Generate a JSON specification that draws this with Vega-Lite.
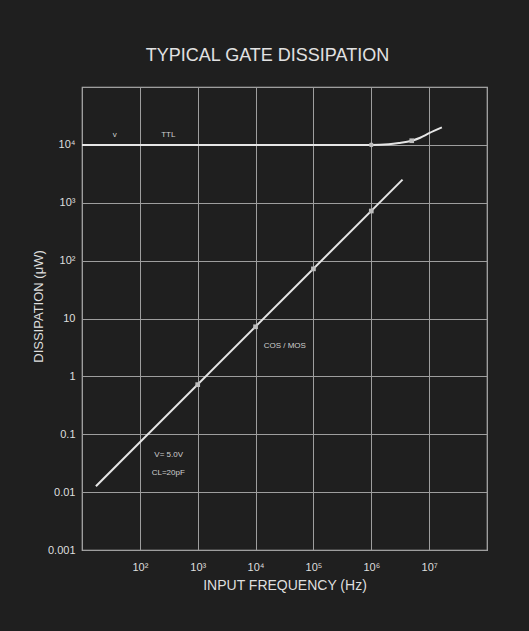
{
  "$schema": "https://vega.github.io/schema/vega-lite/v6.json",
  "width": 405,
  "height": 463,
  "autosize": {"type": "none"},
  "padding": {"left": 82, "top": 87, "right": 42, "bottom": 81},
  "background": "#1f1f1f",
  "title": {
    "text": "TYPICAL GATE DISSIPATION",
    "fontSize": 18,
    "font": "Liberation Sans",
    "fontWeight": "normal",
    "color": "#e2e2e2",
    "anchor": "middle",
    "baseline": "alphabetic",
    "offset": 2,
    "dx": -17
  },
  "datasets": {
    "lines": [
      {"series": "TTL", "f": 10, "p": 10000},
      {"series": "TTL", "f": 100, "p": 10000},
      {"series": "TTL", "f": 1000, "p": 10000},
      {"series": "TTL", "f": 10000, "p": 10000},
      {"series": "TTL", "f": 100000, "p": 10000},
      {"series": "TTL", "f": 1000000, "p": 10000},
      {"series": "TTL", "f": 2000000, "p": 10250},
      {"series": "TTL", "f": 3000000, "p": 10750},
      {"series": "TTL", "f": 5000000, "p": 11800},
      {"series": "TTL", "f": 7000000, "p": 13300},
      {"series": "TTL", "f": 10000000, "p": 15900},
      {"series": "TTL", "f": 16600000, "p": 20000},
      {"series": "CMOS", "f": 17.4, "p": 0.0126},
      {"series": "CMOS", "f": 3470000, "p": 2510}
    ],
    "markers": [
      {"f": 1000000, "p": 10000, "shape": "circle"},
      {"f": 5000000, "p": 11800, "shape": "square"},
      {"f": 1000, "p": 0.72, "shape": "square"},
      {"f": 10000, "p": 7.2, "shape": "square"},
      {"f": 100000, "p": 72, "shape": "square"},
      {"f": 1000000, "p": 720, "shape": "square"}
    ],
    "labels": [
      {"label": "TTL", "f": 310, "p": 14800},
      {"label": "v", "f": 37, "p": 14800},
      {"label": "COS / MOS", "f": 32000, "p": 3.4},
      {"label": "V= 5.0V", "f": 315, "p": 0.044},
      {"label": "CL=20pF", "f": 310, "p": 0.0214}
    ]
  },
  "layer": [
    {
      "data": {"name": "lines"},
      "mark": {"type": "line", "color": "#e6e6e6", "strokeWidth": 2, "interpolate": "monotone"},
      "encoding": {
        "x": {
          "field": "f",
          "type": "quantitative",
          "scale": {"type": "log", "domain": [10, 100000000]},
          "axis": {
            "title": "INPUT FREQUENCY (Hz)",
            "values": [10, 100, 1000, 10000, 100000, 1000000, 10000000, 100000000],
            "labelExpr": "datum.value < 50 ? '' : datum.value < 500 ? '10²' : datum.value < 5000 ? '10³' : datum.value < 50000 ? '10⁴' : datum.value < 500000 ? '10⁵' : datum.value < 5000000 ? '10⁶' : datum.value < 50000000 ? '10⁷' : ''",
            "labelPadding": 11,
            "labelFontSize": 11,
            "labelFlush": false,
            "labelOverlap": false,
            "titleFontSize": 14,
            "titleY": 28
          }
        },
        "y": {
          "field": "p",
          "type": "quantitative",
          "scale": {"type": "log", "domain": [0.001, 100000]},
          "axis": {
            "title": "DISSIPATION (μW)",
            "values": [0.001, 0.01, 0.1, 1, 10, 100, 1000, 10000, 100000],
            "labelExpr": "datum.value > 50000 ? '' : datum.value > 5000 ? '10⁴' : datum.value > 500 ? '10³' : datum.value > 50 ? '10²' : datum.value > 5 ? '10' : datum.value > 0.5 ? '1' : datum.value > 0.05 ? '0.1' : datum.value > 0.005 ? '0.01' : '0.001'",
            "labelPadding": 7,
            "labelFontSize": 11,
            "labelFlush": false,
            "labelOverlap": false,
            "titleFontSize": 13,
            "titleX": -37,
            "titleY": 219
          }
        },
        "detail": {"field": "series"}
      }
    },
    {
      "data": {"name": "markers"},
      "mark": {"type": "point", "filled": true, "color": "#bdbdbd", "size": 22, "opacity": 1},
      "encoding": {
        "x": {"field": "f", "type": "quantitative"},
        "y": {"field": "p", "type": "quantitative"},
        "shape": {"field": "shape", "type": "nominal", "scale": {"domain": ["circle", "square"], "range": ["circle", "square"]}, "legend": null}
      }
    },
    {
      "data": {"name": "labels"},
      "mark": {"type": "text", "color": "#cfcfcf", "fontSize": 8, "font": "Liberation Sans", "align": "center", "baseline": "middle"},
      "encoding": {
        "x": {"field": "f", "type": "quantitative"},
        "y": {"field": "p", "type": "quantitative"},
        "text": {"field": "label"}
      }
    }
  ],
  "config": {
    "view": {"stroke": "#bcbcbc", "strokeWidth": 1.2},
    "axis": {
      "domain": false,
      "ticks": false,
      "grid": true,
      "gridColor": "#9e9e9e",
      "gridWidth": 1,
      "gridOpacity": 1,
      "labelColor": "#dedede",
      "titleColor": "#dedede",
      "labelFont": "Liberation Sans",
      "titleFont": "Liberation Sans",
      "titleFontWeight": "normal"
    }
  }
}
